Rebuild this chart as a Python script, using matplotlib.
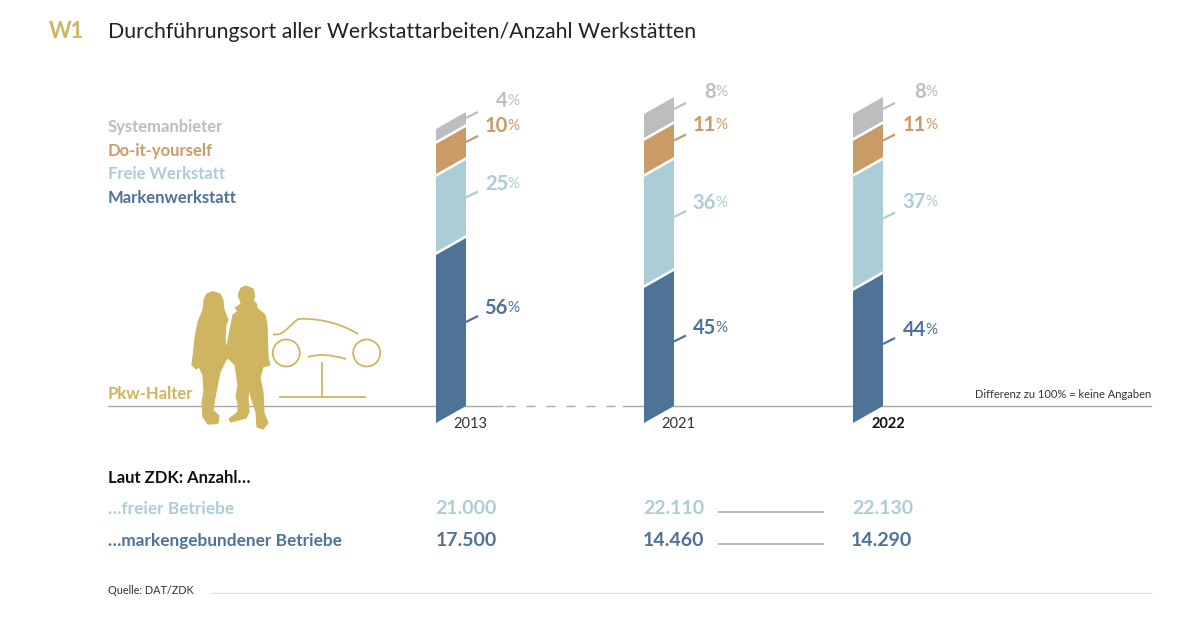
import matplotlib
matplotlib.use('Agg')
import matplotlib.pyplot as plt
from matplotlib.patches import Polygon, Circle, PathPatch
from matplotlib.path import Path

plt.rcParams['font.family'] = ['Lato', 'DejaVu Sans']

# data
years = ['2013', '2021', '2022']
marken = [56, 45, 44]
frei = [25, 36, 37]
diy = [10, 11, 11]
system = [4, 8, 8]
series_names = ['Systemanbieter', 'Do-it-yourself', 'Freie Werkstatt', 'Markenwerkstatt']
freie_betriebe = ['21.000', '22.110', '22.130']
marken_betriebe = ['17.500', '14.460', '14.290']

BLUE = '#4f7299'
LIGHT = '#abcdd8'
ORANGE = '#c99b66'
GREY = '#bdbdbf'
GOLD = '#cfb55f'
DARK = '#333333'
LINE = '#a9a9a9'

fig = plt.figure(figsize=(12, 6.18), dpi=100)
ax = fig.add_axes([0, 0, 1, 1])
ax.set_xlim(0, 1200)
ax.set_ylim(618, 0)
ax.axis('off')

# header
ax.text(49, 32, 'W1', fontsize=15.5, color=GOLD, weight='bold', va='center')
ax.text(108, 32, 'Durchführungsort aller Werkstattarbeiten/Anzahl Werkstätten',
        fontsize=15.35, color='#222222', va='center')

# legend
leg_cols = [GREY, ORANGE, LIGHT, BLUE]
leg_y = [127, 151, 174, 198]
for name, c, y in zip(series_names, leg_cols, leg_y):
    ax.text(108, y, name, fontsize=12, color=c, weight='bold', va='center')

# baseline
base = 406
ax.plot([108, 502], [base, base], color=LINE, lw=1, zorder=1)
ax.plot([623, 1151], [base, base], color=LINE, lw=1, zorder=1)
ax.plot([506, 623], [base, base], color=LINE, lw=1, zorder=1, dashes=(6.5, 7.9))
ax.text(1151, 394, 'Differenz zu 100% = keine Angaben', fontsize=8, color=DARK, ha='right', va='center')

# stacked skewed columns
px = 3
gap = 3
w = 30
skew = 17
lefts = [436, 644, 853]
rights_txt = [520, 728, 938]
# label heights per column, bottom to top
label_y = [[307, 183, 125, 100], [327, 202, 124, 91], [329, 201, 124, 91]]
line_shift = [[0, 0, 0, 0], [3, 3, 0, 0], [4, 3, 0, 0]]
cols = [BLUE, LIGHT, ORANGE, GREY]
for i in range(3):
    x0 = lefts[i]
    x1 = x0 + w
    y = base
    vals = [marken[i], frei[i], diy[i], system[i]]
    for k in range(4):
        val = vals[k]
        col = cols[k]
        top = y - val * px
        ax.add_patch(Polygon([(x0, y + skew), (x1, y), (x1, top), (x0, top + skew)],
                             closed=True, fc=col, ec='none', zorder=3))
        mid = (y + top) / 2 + line_shift[i][k]
        ax.plot([x1, x1 + 12], [mid, mid - 6], color=col, lw=1.6, zorder=2, solid_capstyle='butt')
        ax.text(rights_txt[i], label_y[i][k] + 1, '%', fontsize=11, color=col, ha='right', va='center')
        ax.text(rights_txt[i] - 12, label_y[i][k] + 1, str(val), fontsize=14.5, color=col, ha='right', va='center',
                weight='bold')
        y = top - gap

# year labels
year_x = [470, 678, 888]
for i in range(3):
    ax.text(year_x[i], 424, years[i], fontsize=10.5, color='#111111' if i == 2 else DARK, ha='center', va='center',
            weight='bold' if i == 2 else 'normal')

# people
woman = [(213, 292), (220, 294), (223, 300), (224, 310), (228, 320), (226, 325), (225, 339), (228, 357),
         (228, 358), (226, 360), (220, 372), (216, 392), (214, 403), (213, 410), (219, 416), (218, 423), (213, 424),
         (208, 424), (203, 417), (202, 403), (204, 391), (203, 375), (199, 367), (196, 369), (192, 365), (193, 357),
         (195, 338), (198, 322), (203, 310), (204, 302), (207, 294)]
man = [(246, 286), (253, 289), (254, 297), (253, 301), (256, 303), (257, 308), (265, 315), (267, 325), (268, 357),
       (270, 365), (263, 367), (260, 378), (263, 392), (264, 413), (268, 423), (263, 429), (257, 427), (256, 412),
       (251, 397), (249, 388), (248, 398), (249, 412), (246, 418), (231, 422), (229, 419), (238, 412), (238, 403),
       (236, 397), (238, 385), (235, 365), (230, 360), (226, 355), (228, 340), (231, 325), (233, 315), (238, 311),
       (235, 308), (241, 304), (240, 295), (241, 288)]
ax.add_patch(Polygon(woman, closed=True, fc=GOLD, ec=GOLD, lw=0.8, joinstyle='round', zorder=4))
ax.add_patch(Polygon(man, closed=True, fc=GOLD, ec=GOLD, lw=0.8, joinstyle='round', zorder=4))
ax.add_patch(Circle((213, 301), 9.5, fc=GOLD, ec='none', zorder=4))
ax.add_patch(Circle((246.5, 295), 8.5, fc=GOLD, ec='none', zorder=4))

# car icon
roof = [(273, 334), (282, 337), (288, 327), (298, 319), (313, 318), (337, 321), (358, 334)]
ax.add_patch(PathPatch(Path(roof, [Path.MOVETO] + [Path.CURVE4] * 6), fc='none', ec=GOLD, lw=1.3, zorder=4))
belly = [(308, 357), (323, 352), (346, 359)]
ax.add_patch(PathPatch(Path(belly, [Path.MOVETO, Path.CURVE3, Path.CURVE3]), fc='none', ec=GOLD, lw=1.3, zorder=4))
ax.add_patch(Circle((286.3, 353), 13.5, fc='none', ec=GOLD, lw=1.3, zorder=4))
ax.add_patch(Circle((366.7, 353), 13.5, fc='none', ec=GOLD, lw=1.3, zorder=4))
ax.plot([322, 322], [363, 397], color=GOLD, lw=1.3, zorder=4)
ax.plot([280, 365], [397, 397], color=GOLD, lw=1.3, zorder=4)
ax.text(108, 394, 'Pkw-Halter', fontsize=12, color=GOLD, weight='bold', va='center')

# table
ax.text(108, 478, 'Laut ZDK: Anzahl…', fontsize=12, color='#111111', weight='bold', va='center')
ax.text(108, 509, '…freier Betriebe', fontsize=12.4, color=LIGHT, weight='bold', va='center')
ax.text(108, 541, '…markengebundener Betriebe', fontsize=12.4, color=BLUE, weight='bold', va='center')
tab_x = [466, 674, 883]
for i in range(3):
    ax.text(tab_x[i], 508, freie_betriebe[i], fontsize=14, color=LIGHT, weight='bold', ha='center', va='center')
    ax.text(tab_x[i] - (2 if i == 2 else 0), 540, marken_betriebe[i], fontsize=14, color=BLUE,
            weight='bold', ha='center', va='center')
ax.plot([719, 823], [512, 512], color=LINE, lw=1.2)
ax.plot([719, 823], [543.5, 543.5], color=LINE, lw=1.2)

# source
ax.text(108, 590, 'Quelle: DAT/ZDK', fontsize=7.8, color=DARK, va='center')
ax.plot([212, 1151], [593, 593], color='#e4e4e4', lw=1)

fig.savefig('out.png', dpi=100)
